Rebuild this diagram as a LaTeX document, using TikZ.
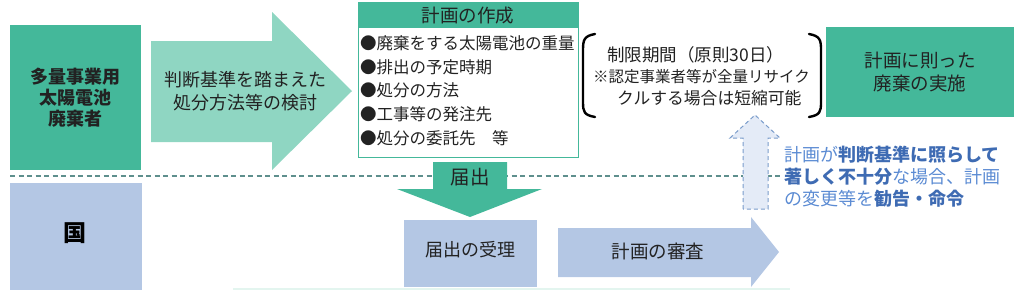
\documentclass[tikz,border=0pt]{standalone}
\usepackage{fontspec}
\setmainfont{Noto Sans CJK JP}
\usetikzlibrary{calc}
\definecolor{gdark}{HTML}{44B89A}
\definecolor{glight}{HTML}{8FD6C2}
\definecolor{gfaint}{HTML}{E3F5EF}
\definecolor{bbox}{HTML}{B4C7E4}
\definecolor{dline}{HTML}{5E8F8D}
\definecolor{btxt}{HTML}{5B8BD3}
\definecolor{btxtb}{HTML}{3E6BB3}
\definecolor{bfill}{HTML}{E4EBF7}
\definecolor{bedge}{HTML}{7A9CCB}
\definecolor{ink}{HTML}{222222}
\tikzset{
  txt/.style={text=ink, inner sep=0pt, align=center},
  f18/.style={font=\fontsize{18}{23}\selectfont},
  f16/.style={font=\fontsize{16.5}{23}\selectfont},
  brk/.style={line width=2.4pt, black, line cap=round},
}
\begin{document}
\begin{tikzpicture}[x=1pt,y=-1pt]
\useasboundingbox (0,0) rectangle (1024,290);
% faint bottom strip
\fill[gfaint] (233,288) rectangle (790,290);
% dashed separator
\draw[dline, dashed, line width=1.2pt, dash pattern=on 5pt off 3.5pt] (10,176) coordinate (sepL) -- (780,176) coordinate (sepR);
% left top box
\node[fill=gdark, minimum width=131pt, minimum height=145pt, inner sep=0pt, anchor=north west] (ops) at (10,25) {};
\node[txt, font=\fontsize{18}{21}\selectfont\bfseries] at (ops.center) {多量事業用\\太陽電池\\廃棄者};
% light green arrow
\fill[glight] (151,41) -- (272,41) -- (272,12) -- (352,91) -- (272,170) -- (272,142) -- (151,142) -- cycle;
\node[txt, f18] (exam) at (245,91) {判断基準を踏まえた\\処分方法等の検討};
% plan box
\node[draw=gdark, line width=1.2pt, minimum width=220pt, minimum height=155pt, inner sep=0pt, anchor=north west] (plan) at (358,2) {};
\fill[gdark] (358,2) rectangle (578,28);
\node[txt, font=\fontsize{18.5}{23}\selectfont] (planh) at (468,15.5) {計画の作成};
\node[txt, f16, anchor=west] (i1) at (360,43) {●廃棄をする太陽電池の重量};
\node[txt, f16, anchor=west] (i2) at (360,67) {●排出の予定時期};
\node[txt, f16, anchor=west] (i3) at (360,90) {●処分の方法};
\node[txt, f16, anchor=west] (i4) at (360,114) {●工事等の発注先};
\node[txt, f16, anchor=west] (i5) at (360,138) {●処分の委託先　等};
% brackets
\draw[brk] (595,34) .. controls (584,36) and (583,40) .. (583,50) -- (583,102) .. controls (583,112) and (584,115) .. (595,117);
\draw[brk] (809,34) .. controls (820,36) and (821,40) .. (821,50) -- (821,102) .. controls (821,112) and (820,115) .. (809,117);
\node[txt, font=\fontsize{17.5}{22}\selectfont, anchor=west] (lim1) at (607,55) {制限期間（原則30日）};
\node[txt, font=\fontsize{15.5}{22}\selectfont, anchor=west] (lim2) at (593,77) {※認定事業者等が全量リサイク};
\node[txt, font=\fontsize{16.8}{22}\selectfont, anchor=west] (lim3) at (617,98) {クルする場合は短縮可能};
% right green box
\node[fill=gdark, minimum width=188pt, minimum height=90pt, inner sep=0pt, anchor=north west] (impl) at (826,27) {};
\node[txt, f18, font=\fontsize{18.5}{23}\selectfont] at (impl.center) {計画に則った\\廃棄の実施};
% 国 box
\node[fill=bbox, minimum width=132pt, minimum height=107pt, inner sep=0pt, anchor=north west] (kuni) at (10,183) {};
\node[txt, font=\fontsize{23}{25}\selectfont\bfseries, text=black] at (75,233) {国};
% 届出 arrow
\fill[gdark] (433,162) -- (507,162) -- (507,189) -- (542,189) -- (470,217) -- (397,189) -- (433,189) -- cycle;
\node[txt, font=\fontsize{19.5}{23}\selectfont] (todoke) at (470,177) {届出};
% 受理 box
\node[fill=bbox, minimum width=133pt, minimum height=67pt, inner sep=0pt, anchor=north west] (juri) at (404,220) {};
\node[txt, f18] at (470,250) {届出の受理};
% 審査 arrow
\fill[bbox] (558,228) -- (751,228) -- (751,217) -- (779,252) -- (751,287) -- (751,277) -- (558,277) -- cycle;
\node[txt, f18, font=\fontsize{18.5}{23}\selectfont] (shinsa) at (658,251) {計画の審査};
% dashed up arrow
\draw[bedge, fill=bfill, line width=1pt, dash pattern=on 4pt off 3pt] (743,209) -- (743,138) -- (730,138) -- (755,115) -- (780,138) -- (768,138) -- (768,209) -- cycle;
% blue text
\node[inner sep=0pt, anchor=west, text=btxt, font=\fontsize{18}{22}\selectfont] (b1) at (784,155) {計画が{\color{btxtb}\bfseries 判断基準に照らして}};
\node[inner sep=0pt, anchor=west, text=btxt, font=\fontsize{18}{22}\selectfont] (b2) at (784,177) {{\color{btxtb}\bfseries 著しく不十分}な場合、計画};
\node[inner sep=0pt, anchor=west, text=btxt, font=\fontsize{18}{22}\selectfont] (b3) at (784,199) {の変更等を{\color{btxtb}\bfseries 勧告・命令}};
\end{tikzpicture}
\end{document}
